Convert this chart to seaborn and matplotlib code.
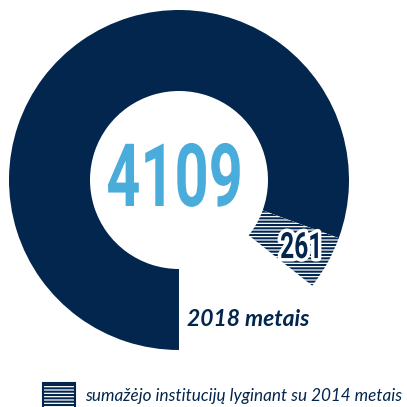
import matplotlib
matplotlib.use("Agg")
import matplotlib.pyplot as plt
from matplotlib.patches import Patch
from matplotlib.patheffects import AbstractPathEffect
from matplotlib.transforms import Affine2D
import seaborn as sns

# values
labels = ["2018 metais", "", "sumažėjo institucijų lyginant su 2014 metais"]
values = [4109, 731, 261]   # middle one is the empty gap in the ring
total_label = "4109"
drop_label = "261"
year_label = "2018 metais"

navy = "#03264e"
light_blue = "#49acdb"


class Squeeze(AbstractPathEffect):
    # narrows the glyphs horizontally (condensed look), optional white halo
    def __init__(self, sx, anchor="center", halo=None):
        super().__init__()
        self.sx, self.anchor, self.halo = sx, anchor, halo

    def draw_path(self, renderer, gc, tpath, affine, rgbFace=None):
        ext = tpath.get_extents(affine)
        x0 = ext.x0 if self.anchor == "left" else (ext.x0 + ext.x1) / 2
        aff = affine + Affine2D().translate(-x0, 0).scale(self.sx, 1).translate(x0, 0)
        if self.halo:
            gc0 = renderer.new_gc()
            gc0.copy_properties(gc)
            gc0.set_foreground("white")
            gc0.set_linewidth(self.halo)
            renderer.draw_path(gc0, tpath, aff, None)
            gc0.restore()
        renderer.draw_path(gc, tpath, aff, rgbFace)


sns.set_theme(style="white")
plt.rcParams["font.family"] = ["Lato", "DejaVu Sans"]
plt.rcParams["hatch.linewidth"] = 1.5

fig = plt.figure(figsize=(4.07, 4.07), dpi=100)
W = 407
cx, cy, r = 179, 180, 170
ax = fig.add_axes([(cx - r) / W, (W - cy - r) / W, 2 * r / W, 2 * r / W])

wedges, _ = ax.pie(values, startangle=-20, counterclock=True,
                   colors=[navy, "white", "white"],
                   wedgeprops=dict(width=81 / 170, linewidth=0))
wedges[1].set_alpha(0)
wedges[2].set_edgecolor(navy)
wedges[2].set_hatch("-----")
ax.set_xlim(-1, 1)
ax.set_ylim(-1, 1)
ax.set_aspect("equal")
ax.axis("off")

cond = ["Roboto", "DejaVu Sans"]
t1 = ax.text(-0.024, -0.153, total_label, ha="center", va="baseline",
             fontsize=63, fontweight="bold", color=light_blue, family=cond)
t1.set_path_effects([Squeeze(0.68)])
t2 = ax.text(0.724, -0.459, drop_label, ha="center", va="baseline",
             fontsize=26, fontweight="bold", color=navy, family=cond)
t2.set_path_effects([Squeeze(0.68, halo=5)])
ax.text(0.047, -0.859, year_label, ha="left", va="baseline",
        fontsize=16.5, fontweight="bold", style="italic", color=navy)

handle = Patch(facecolor="white", edgecolor=navy, hatch="-----", linewidth=1.5)
fig.legend([handle], [labels[2]], loc="center left",
           bbox_to_anchor=(43 / W, 1 - 396 / W), frameon=False,
           prop=dict(style="italic", size=12.3),
           handlelength=1.85, handleheight=1.9, handletextpad=0.62,
           borderpad=0, borderaxespad=0, labelcolor=navy)

fig.savefig("out.png", dpi=100)
